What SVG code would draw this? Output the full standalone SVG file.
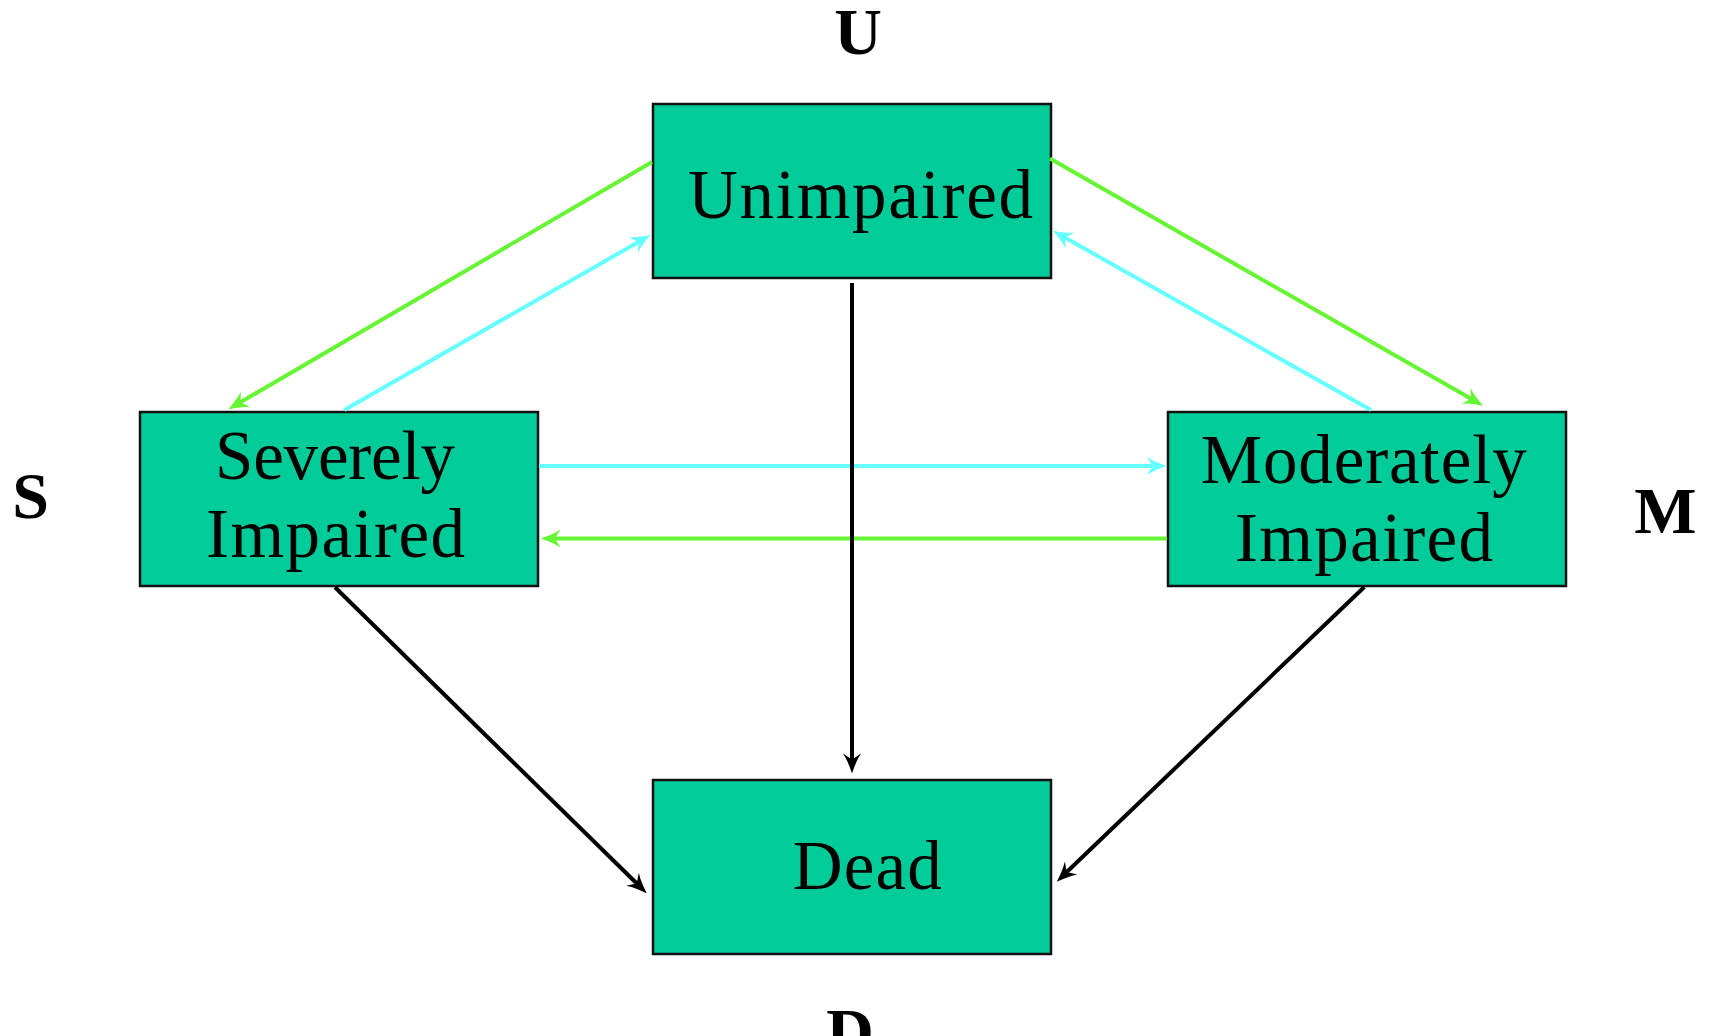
<svg xmlns="http://www.w3.org/2000/svg" width="1714" height="1036" viewBox="0 0 1714 1036">
<style>
.box{fill:#00cc99;stroke:#111;stroke-width:2.5}
.lbl{font-family:"Liberation Serif",serif;font-size:69px;fill:#000;text-anchor:middle}
.tag{font-family:"Liberation Serif",serif;font-size:66px;font-weight:bold;fill:#000;text-anchor:middle}
.g{stroke:#66f533;stroke-width:4;fill:none}
.c{stroke:#66ffff;stroke-width:4;fill:none}
.k{stroke:#000;stroke-width:4;fill:none}
</style>
<defs>
<marker id="ag" markerUnits="userSpaceOnUse" markerWidth="22" markerHeight="20" refX="10" refY="0" orient="auto" overflow="visible"><path d="M20,0 C14,-2 6,-5 0,-9 L6,0 L0,9 C6,5 14,2 20,0 Z" fill="#66f533"/></marker>
<marker id="ac" markerUnits="userSpaceOnUse" markerWidth="22" markerHeight="20" refX="10" refY="0" orient="auto" overflow="visible"><path d="M20,0 C14,-2 6,-5 0,-9 L6,0 L0,9 C6,5 14,2 20,0 Z" fill="#66ffff"/></marker>
<marker id="ak" markerUnits="userSpaceOnUse" markerWidth="22" markerHeight="20" refX="10" refY="0" orient="auto" overflow="visible"><path d="M20,0 C14,-2 6,-5 0,-9 L6,0 L0,9 C6,5 14,2 20,0 Z" fill="#000"/></marker>
</defs>
<rect width="1714" height="1036" fill="#fff"/>
<g id="node-U">
<rect class="box" x="653" y="104" width="398" height="174"/>
<text class="lbl" x="860.5" y="218" textLength="345">Unimpaired</text>
<text class="tag" x="858" y="54">U</text>
</g>
<g id="node-S">
<rect class="box" x="140" y="412" width="398" height="174"/>
<text class="lbl" x="335" y="479" textLength="240">Severely</text>
<text class="lbl" x="335.5" y="557" textLength="259">Impaired</text>
<text class="tag" x="30.5" y="518">S</text>
</g>
<g id="node-M">
<rect class="box" x="1168" y="412" width="398" height="174"/>
<text class="lbl" x="1363.7" y="483" textLength="326">Moderately</text>
<text class="lbl" x="1364" y="561" textLength="258">Impaired</text>
<text class="tag" x="1665.5" y="533">M</text>
</g>
<g id="node-D">
<rect class="box" x="653" y="780" width="398" height="174"/>
<text class="lbl" x="867.3" y="889" textLength="149">Dead</text>
<text class="tag" x="850" y="1054">D</text>
</g>
<g id="connectors">
<line class="g" x1="652" y1="162" x2="236.9" y2="404.3" marker-end="url(#ag)"/>
<line class="c" x1="344.3" y1="410" x2="642" y2="240" marker-end="url(#ac)"/>
<line class="g" x1="1050" y1="158.5" x2="1474.6" y2="400.8" marker-end="url(#ag)"/>
<line class="c" x1="1371" y1="410" x2="1061.4" y2="235.6" marker-end="url(#ac)"/>
<line class="c" x1="539" y1="466" x2="1156.7" y2="466" marker-end="url(#ac)"/>
<line class="g" x1="1167" y1="538.5" x2="550.7" y2="538.5" marker-end="url(#ag)"/>
<line class="k" x1="852" y1="283" x2="852" y2="763.5" marker-end="url(#ak)"/>
<line class="k" x1="335" y1="587.3" x2="639.6" y2="886.3" marker-end="url(#ak)"/>
<line class="k" x1="1364.3" y1="587" x2="1063.9" y2="874.8" marker-end="url(#ak)"/>
</g>
</svg>
